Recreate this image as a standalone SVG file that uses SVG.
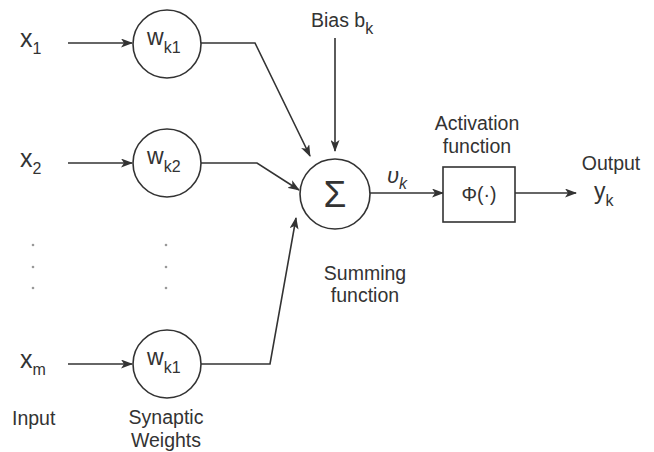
<svg xmlns="http://www.w3.org/2000/svg" width="654" height="452" viewBox="0 0 654 452">
<defs>
<style>
text{font-family:"Liberation Sans",Arial,sans-serif;fill:#333}
.lbl{font-size:19.5px}
.var{font-size:25px}
.w{font-size:23px}
.sub{font-size:16px}
.node{fill:#fff;stroke:#333;stroke-width:1.6}
.conn{fill:none;stroke:#333;stroke-width:1.6}
.dot{fill:#999}
</style>
<marker id="ah" markerWidth="12" markerHeight="9" refX="11" refY="4.5" orient="auto" markerUnits="userSpaceOnUse">
<path d="M0,0 L12,4.5 L0,9 L3,4.5 Z" fill="#333"/>
</marker>
</defs>
<rect width="654" height="452" fill="#fff"/>

<g id="connectors">
<line class="conn" x1="68" y1="43" x2="132" y2="43" marker-end="url(#ah)"/>
<line class="conn" x1="68" y1="163" x2="132" y2="163" marker-end="url(#ah)"/>
<line class="conn" x1="68" y1="364" x2="132" y2="364" marker-end="url(#ah)"/>
<polyline class="conn" points="201,43 255,43 310,156" marker-end="url(#ah)"/>
<polyline class="conn" points="201,163 257,163 299,190" marker-end="url(#ah)"/>
<polyline class="conn" points="201,364 270,364 296,218" marker-end="url(#ah)"/>
<line class="conn" x1="335" y1="38" x2="335" y2="151" marker-end="url(#ah)"/>
<line class="conn" x1="370" y1="193" x2="443" y2="193" marker-end="url(#ah)"/>
<line class="conn" x1="515" y1="193" x2="576" y2="193" marker-end="url(#ah)"/>
</g>

<g id="input-x1"><text x="20" y="47"><tspan class="var">x</tspan><tspan class="sub" dy="7">1</tspan></text></g>
<g id="input-x2"><text x="20" y="167"><tspan class="var">x</tspan><tspan class="sub" dy="7">2</tspan></text></g>
<g id="input-xm"><text x="20" y="368"><tspan class="var">x</tspan><tspan class="sub" dy="7">m</tspan></text></g>

<g id="dots">
<circle class="dot" cx="33" cy="245" r="1.3"/><circle class="dot" cx="33" cy="267" r="1.3"/><circle class="dot" cx="33" cy="288" r="1.3"/>
<circle class="dot" cx="166" cy="245" r="1.3"/><circle class="dot" cx="166" cy="267" r="1.3"/><circle class="dot" cx="166" cy="288" r="1.3"/>
</g>

<g id="weight-wk1"><circle class="node" cx="167" cy="44" r="34"/><text x="147" y="45"><tspan class="w">w</tspan><tspan class="sub" dy="8">k1</tspan></text></g>
<g id="weight-wk2"><circle class="node" cx="167" cy="163" r="34"/><text x="147" y="164"><tspan class="w">w</tspan><tspan class="sub" dy="8">k2</tspan></text></g>
<g id="weight-wkm"><circle class="node" cx="167" cy="364" r="34"/><text x="147" y="365"><tspan class="w">w</tspan><tspan class="sub" dy="8">k1</tspan></text></g>

<g id="bias"><text x="311" y="27"><tspan class="lbl">Bias b</tspan><tspan class="sub" dy="7">k</tspan></text></g>

<g id="summing"><circle class="node" cx="335" cy="194" r="35"/><text x="335" y="207" text-anchor="middle" style="font-size:37px">Σ</text></g>
<g id="summing-label"><text class="lbl" x="365" y="280" text-anchor="middle">Summing</text><text class="lbl" x="365" y="302" text-anchor="middle">function</text></g>

<g id="uk"><text x="387" y="183" style="font-style:italic"><tspan style="font-size:22px">υ</tspan><tspan class="sub" dy="6">k</tspan></text></g>

<g id="activation"><rect class="node" x="443" y="167" width="72" height="55"/><text class="lbl" x="479" y="201" text-anchor="middle">Φ(·)</text></g>
<g id="activation-label"><text class="lbl" x="477" y="130" text-anchor="middle">Activation</text><text class="lbl" x="477" y="153" text-anchor="middle">function</text></g>

<g id="output"><text class="lbl" x="611" y="170" text-anchor="middle">Output</text><text x="594" y="199"><tspan style="font-size:23px">y</tspan><tspan class="sub" dy="7">k</tspan></text></g>

<g id="labels">
<text class="lbl" x="12" y="425">Input</text>
<text class="lbl" x="166" y="424" text-anchor="middle">Synaptic</text>
<text class="lbl" x="166" y="447" text-anchor="middle">Weights</text>
</g>
</svg>
